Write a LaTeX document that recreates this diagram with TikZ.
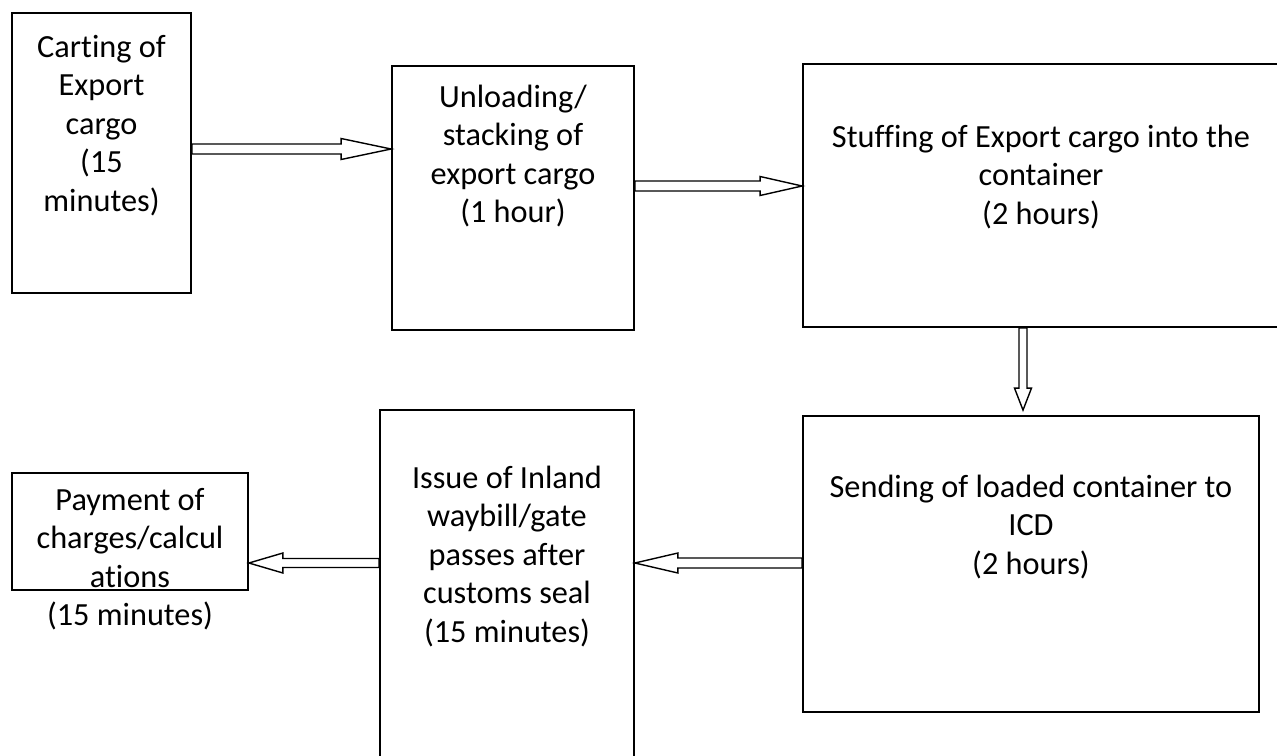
\documentclass[tikz,border=0pt]{standalone}
\usepackage{fontspec}
\setmainfont{Carlito}[Ligatures={NoCommon}]
\usetikzlibrary{calc}

\tikzset{
  box/.style={draw, line width=1.8pt, inner sep=0pt},
  txt/.style={anchor=base, inner sep=0pt, text width=#1, align=flush center,
    font=\fontsize{32.3}{38.5}\selectfont},
  blockarrow/.style n args={3}{draw, fill=white, line width=1.4pt,
    to path={($(\tikztotarget)!#1!(\tikztostart)$) coordinate (bah)
      ($(\tikztostart)!#2!90:(\tikztotarget)$)
      -- ($(bah)!#2!-90:(\tikztostart)$) -- ($(bah)!#3!-90:(\tikztostart)$)
      -- (\tikztotarget)
      -- ($(bah)!#3!90:(\tikztostart)$) -- ($(bah)!#2!90:(\tikztostart)$)
      -- ($(\tikztostart)!#2!-90:(\tikztotarget)$) -- cycle}}
}

\begin{document}
\begin{tikzpicture}[x=1pt, y=-1pt]
                \useasboundingbox (0,0) rectangle (1277,755);
                \clip (0,0) rectangle (1277,755);
                % boxes
                \node[box, minimum width=179pt, minimum height=280pt] (cart) at (101.5,153) {};
                \node[box, minimum width=242pt, minimum height=264pt] (unload) at (513,198) {};
                \node[box, minimum width=478pt, minimum height=263pt] (stuff) at (1042,195.5) {};
                \node[box, minimum width=456pt, minimum height=296pt] (send) at (1031,564) {};
                \node[box, minimum width=254pt, minimum height=352pt] (issue) at (507,586) {};
                \node[box, minimum width=236pt, minimum height=117pt] (pay) at (130,531.5) {};
                % texts
                \node[txt=175pt] (cartlbl) at (101.5,57) {Carting of\\Export\\cargo\\(15\\minutes)};
                \node[txt=238pt] (unloadlbl) at (513,107) {Unloading/\\stacking of\\export cargo\\(1 hour)};
                \node[txt=470pt] (stufflbl) at (1041,147) {Stuffing of Export cargo into the\\container\\(2 hours)};
                \node[txt=450pt] (sendlbl) at (1031,497) {Sending of loaded container to\\ICD\\(2 hours)};
                \node[txt=250pt] (issuelbl) at (507,488) {Issue of Inland\\waybill/gate\\passes after\\customs seal\\(15 minutes)};
                \node[txt=232pt] (paylbl) at (130,510) {Payment of\\charges/calcul\\ations\\(15 minutes)};
                % arrows
                \coordinate (a1s) at ([yshift=4pt]cart.east);
                \coordinate (a1e) at (a1s -| unload.west);
                \coordinate (a2s) at ([yshift=12pt]unload.east);
                \coordinate (a2e) at (a2s -| stuff.west);
                \coordinate (a3s) at ([xshift=-19pt]stuff.south);
                \coordinate (a3e) at ($(a3s |- send.north)+(0,-5)$);
                \coordinate (a4s) at ([yshift=1pt]send.west);
                \coordinate (a4e) at (a4s -| issue.east);
                \coordinate (a5s) at (issue.west |- a4s);
                \coordinate (a5e) at (a5s -| pay.east);
                \draw[blockarrow={50pt}{5pt}{10.5pt}] (a1s) to (a1e);
                \draw[blockarrow={42pt}{5pt}{9.5pt}] (a2s) to (a2e);
                \draw[blockarrow={22pt}{4pt}{8.5pt}] (a3s) to (a3e);
                \draw[blockarrow={43pt}{5pt}{10pt}] (a4s) to (a4e);
                \draw[blockarrow={34pt}{4.5pt}{10pt}] (a5s) to (a5e);
            \end{tikzpicture}
\end{document}
